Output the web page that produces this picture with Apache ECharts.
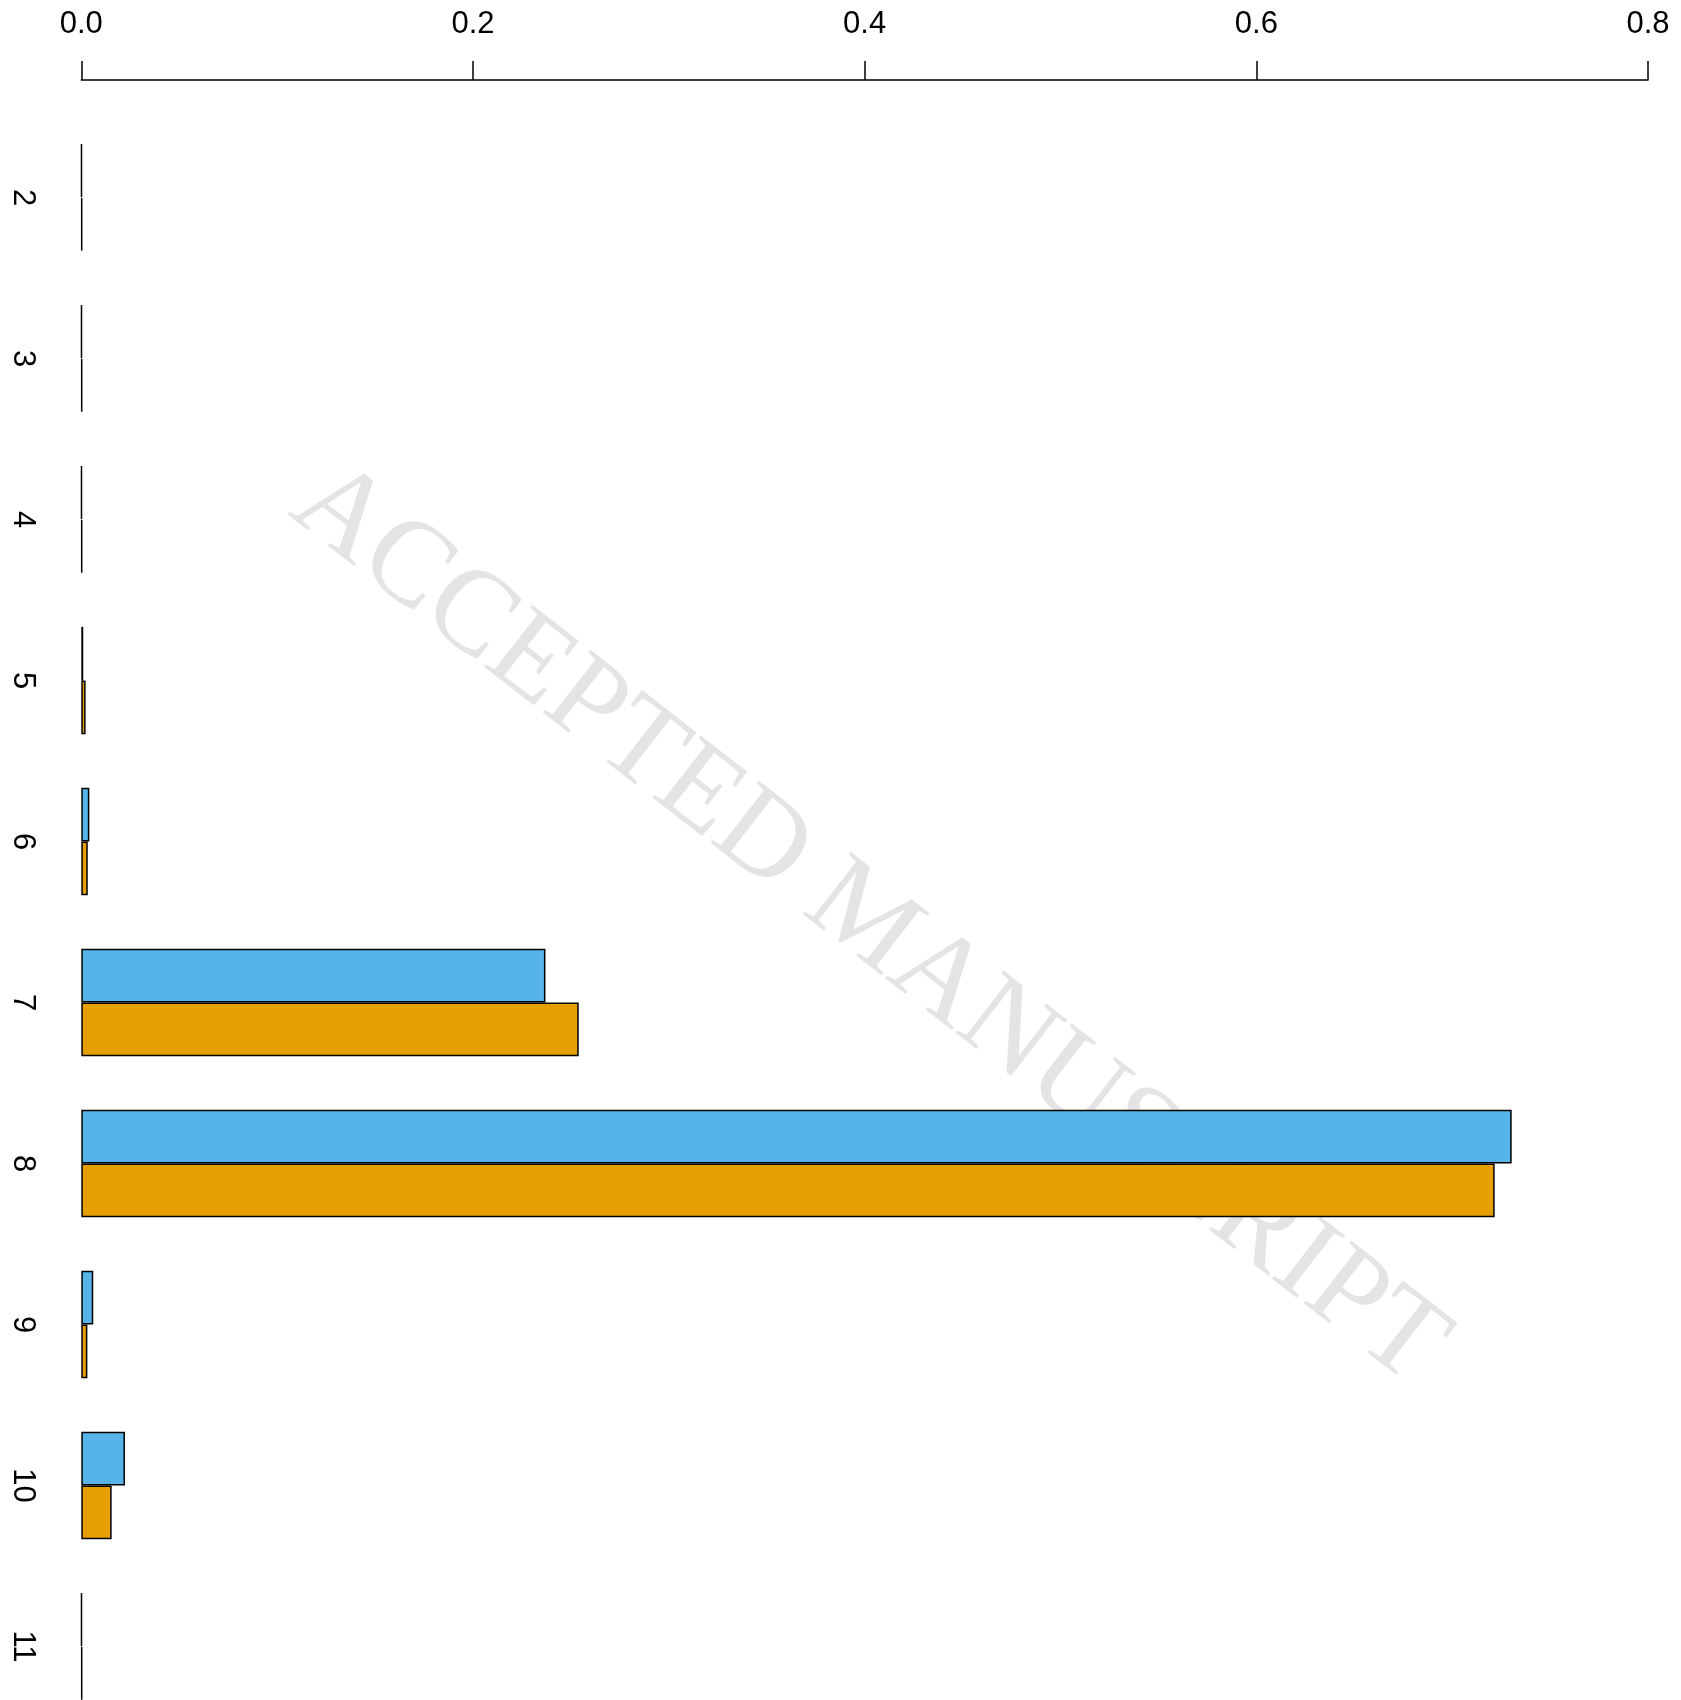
<!DOCTYPE html>
<html>
<head>
<meta charset="utf-8">
<script src="https://cdn.jsdelivr.net/npm/echarts@6/dist/echarts.min.js"></script>
<style>
html, body { margin: 0; padding: 0; background: #fff; }
#chart { width: 1681px; height: 1700px; }
</style>
</head>
<body>
<div id="chart"></div>
<script>
// categories read top to bottom
var categories = ['2', '3', '4', '5', '6', '7', '8', '9', '10', '11'];
// blue series (top bar of each pair)
var blueValues = [0.0002, 0.0002, 0.0002, 0.001, 0.0041, 0.237, 0.7304, 0.0061, 0.0223, 0.0002];
// orange series (bottom bar of each pair)
var orangeValues = [0.0004, 0.0004, 0.0004, 0.0022, 0.0033, 0.254, 0.7217, 0.0031, 0.0155, 0.0004];
var xTicks = [0, 0.2, 0.4, 0.6, 0.8];

var myChart = echarts.init(document.getElementById('chart'));

var option = {
    backgroundColor: '#fff',
    animation: false,
    graphic: [
        {
            type: 'text',
            z: -10,
            x: 868,
            y: 925,
            rotation: -0.66,
            silent: true,
            style: {
                text: 'ACCEPTED MANUSCRIPT',
                font: '120px "Liberation Serif", "DejaVu Serif", serif',
                fill: '#e4e4e4',
                textAlign: 'center',
                textVerticalAlign: 'middle'
            }
        }
    ],
    grid: {
        left: 81.3,
        right: 33,
        top: 117,
        height: 1610,
        outerBoundsMode: 'none',
        containLabel: false
    },
    xAxis: {
        type: 'value',
        position: 'top',
        offset: 37,
        min: xTicks[0],
        max: xTicks[xTicks.length - 1],
        interval: 0.2,
        axisLine: {
            show: true,
            lineStyle: { color: '#000', width: 1.5 }
        },
        axisTick: {
            show: true,
            length: 19,
            lineStyle: { color: '#000', width: 1.5 }
        },
        axisLabel: {
            margin: 40,
            color: '#000',
            fontSize: 31,
            fontFamily: '"Liberation Sans", Arial, sans-serif',
            formatter: function (v) { return v.toFixed(1); }
        },
        splitLine: { show: false }
    },
    yAxis: {
        type: 'category',
        inverse: true,
        data: categories,
        axisLine: { show: false },
        axisTick: { show: false },
        axisLabel: {
            rotate: -90,
            margin: 43,
            color: '#000',
            fontSize: 31,
            fontFamily: '"Liberation Sans", Arial, sans-serif',
            interval: 0
        },
        splitLine: { show: false }
    },
    series: [
        {
            name: 'blue',
            type: 'bar',
            data: blueValues,
            barWidth: 53.65,
            barGap: '0%',
            itemStyle: {
                color: '#56B4E9',
                borderColor: '#000',
                borderWidth: 1.5
            }
        },
        {
            name: 'orange',
            type: 'bar',
            data: orangeValues,
            barWidth: 53.65,
            barGap: '0%',
            itemStyle: {
                color: '#E69F00',
                borderColor: '#000',
                borderWidth: 1.5
            }
        }
    ]
};
option && myChart.setOption(option);
</script>
</body>
</html>
